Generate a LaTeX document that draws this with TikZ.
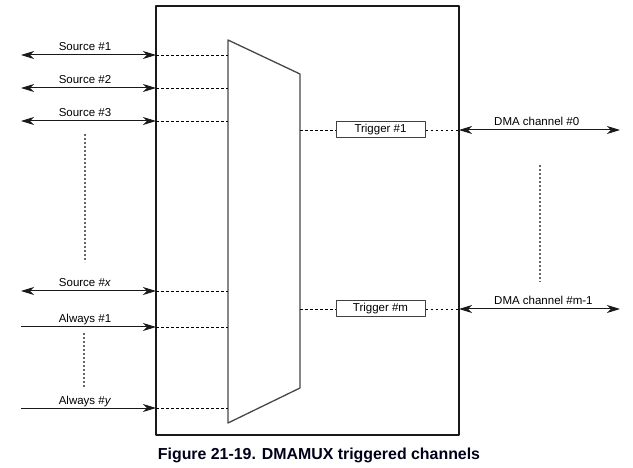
\documentclass[tikz,border=0pt]{standalone}
\usepackage{fontspec}
\setmainfont{Liberation Sans}
\usetikzlibrary{arrows.meta,positioning}
\begin{document}
\begin{tikzpicture}[x = 1pt, y = -1pt, line join = round, font = \fontsize{11.5}{13}\selectfont,
	>= {Stealth[length = 13pt, width = 8pt, inset = 4pt]},
	sig/.style = {line width = 1pt, black!90},
	link/.style = {line width = .85pt, dash pattern = on 2.5pt off 2.5pt},
	gap/.style = {line width = 1.2pt, black!60, dash pattern = on 2pt off 2pt},
	trig/.style = {draw, line width = 1pt, black!75, text = black, minimum width = 89pt, minimum height = 16pt, inner sep = 0pt},
	lbl/.style = {anchor = base, inner sep = 0pt}]
	\useasboundingbox (0,0) rectangle (633,468);
	\path
	(156,6) coordinate (boxTL)
	(459,435) coordinate (boxBR)
	(228,40) coordinate (muxTL)
	(300,74) coordinate (muxTR)
	(300,388) coordinate (muxBR)
	(228,423) coordinate (muxBL)
	;
	\draw[line width = 1.3pt, black!90]
	(boxTL) rectangle (boxBR)
	;
	\draw[line width = 1.3pt, black!72]
	(muxTL)--(muxTR)--(muxBR)--(muxBL)--cycle
	;
	% inputs
	\foreach \n/\y/\t/\d in {s1/55/Source \#1/<->, s2/88/Source \#2/<->, s3/121/Source \#3/<->,
		sx/291/Source \#\textit{x}/<->, a1/327/Always \#1/->, ay/408/Always \#\textit{y}/->}
	{
		\path (21,\y) coordinate (in\n) (156,\y) coordinate (pin\n) (228,\y) coordinate (mux\n);
		\draw[sig, \d] (in\n)--(pin\n);
		\draw[link] (pin\n)--(mux\n);
		\node[lbl] (l\n) at (85,\y-4) {\t};
	}
	% outputs
	\foreach \n/\y/\t/\c in {1/130/Trigger \#1/DMA channel \#0, m/309/Trigger \#m/DMA channel \#m-1}
	{
		\node[trig] (t\n) at (380.5,\y) {\t};
		\path (300,\y) coordinate (mo\n) (459,\y) coordinate (po\n) (620,\y) coordinate (out\n);
		\draw[link] (mo\n)--(t\n.west) (t\n.east)--(po\n);
		\draw[sig, <->] (po\n)--(out\n);
		\node[lbl, anchor = base west] (c\n) at (494,\y-4) {\c};
	}
	% continuation dots
	\path
	(85,134) coordinate (g1a) (85,262) coordinate (g1b)
	(84,333) coordinate (g2a) (84,387) coordinate (g2b)
	(540,165) coordinate (g3a) (540,282) coordinate (g3b)
	;
	\draw[gap] (g1a)--(g1b) (g2a)--(g2b) (g3a)--(g3b);
	\node[text = black!90!blue, font = \bfseries\fontsize{15.9}{18}\selectfont] (cap) at (319,455.5) {Figure 21-19. DMAMUX triggered channels};
\end{tikzpicture}
\end{document}
